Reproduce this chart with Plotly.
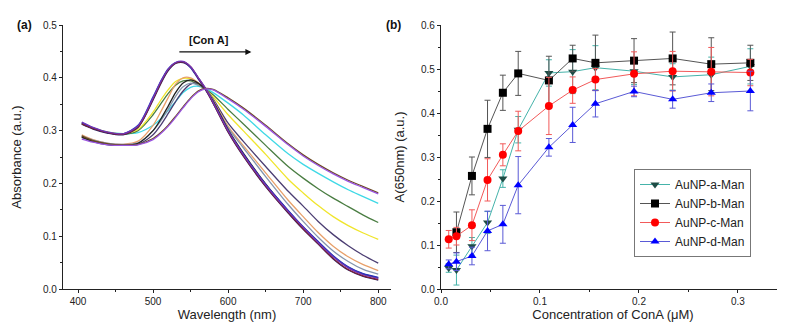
import plotly.graph_objects as go

# ---------------- Panel (a): UV-vis spectra ----------------
wavelength = [405, 420, 440, 460, 480, 500, 510, 520, 530, 540, 550, 560,
              570, 580, 600, 620, 650, 680, 700, 720, 740, 760, 780, 800]

spec_purple = [.316, .306, .297, .294, .309, .362, .392, .416, .429, .431, .421, .401,
               .380, .354, .300, .255, .197, .147, .117, .088, .061, .040, .027, .020]
spec_darkred = [.313, .304, .296, .293, .307, .360, .390, .415, .428, .430, .421, .400,
                .378, .352, .298, .253, .195, .145, .114, .086, .058, .037, .025, .018]
spec_blue = [.314, .305, .296, .294, .310, .364, .393, .417, .429, .430, .419, .398,
             .377, .352, .299, .256, .198, .149, .118, .090, .063, .042, .029, .022]
spec_navy = [.312, .303, .295, .292, .306, .358, .388, .413, .427, .429, .420, .400,
             .379, .353, .297, .252, .194, .144, .113, .085, .057, .036, .024, .017]
spec_black = [.288, .280, .274, .272, .276, .300, .321, .346, .372, .390, .396, .390,
              .377, .356, .302, .258, .199, .148, .117, .089, .062, .041, .028, .021]
spec_gray = [.290, .282, .276, .274, .277, .300, .318, .340, .365, .383, .390, .386,
             .377, .356, .305, .268, .213, .160, .128, .098, .072, .052, .037, .028]
spec_orange = [.292, .283, .276, .274, .280, .310, .335, .362, .388, .400, .400, .391,
               .378, .358, .308, .272, .220, .168, .137, .107, .081, .061, .046, .035]
spec_slate = [.287, .279, .273, .272, .274, .292, .310, .332, .355, .375, .388, .390,
              .379, .360, .314, .280, .232, .185, .157, .128, .103, .082, .064, .049]
spec_yellow = [.314, .305, .297, .294, .302, .335, .357, .377, .393, .399, .398, .389,
               .377, .364, .330, .300, .255, .208, .182, .158, .137, .120, .106, .094]
spec_green = [.313, .304, .296, .293, .300, .330, .350, .370, .386, .394, .394, .387,
              .378, .368, .340, .313, .272, .232, .210, .190, .172, .156, .140, .126]
spec_cyan = [.315, .305, .297, .294, .296, .310, .322, .338, .355, .372, .382, .384,
             .380, .372, .352, .330, .292, .256, .236, .219, .203, .188, .175, .162]
spec_brown = [.290, .281, .275, .273, .274, .285, .296, .310, .327, .345, .362, .375,
              .380, .378, .362, .343, .310, .275, .254, .236, .220, .206, .194, .182]
spec_violet = [.284, .278, .273, .272, .273, .283, .294, .308, .325, .343, .360, .373,
               .379, .377, .360, .341, .308, .273, .252, .234, .218, .204, .192, .180]

spectra = [
    (spec_cyan, "#3fd9e6"), (spec_green, "#4a7d42"), (spec_yellow, "#f0e52c"),
    (spec_slate, "#4b3d72"), (spec_orange, "#e8a06a"), (spec_gray, "#8495ad"),
    (spec_black, "#222222"), (spec_navy, "#2a2060"), (spec_blue, "#2233c0"),
    (spec_darkred, "#852030"), (spec_purple, "#7035b8"),
    (spec_brown, "#6b4a1e"), (spec_violet, "#9a55e0"),
]

# ---------------- Panel (b): A(650nm) vs [ConA] ----------------
conc = [0.0078, 0.0156, 0.03125, 0.047, 0.0625, 0.078, 0.109, 0.133, 0.156,
        0.195, 0.234, 0.273, 0.3125]
conc_b = conc[1:]

a_man = [0.048, 0.043, 0.097, 0.151, 0.251, 0.362, 0.491, 0.494, 0.503, 0.495, 0.482, 0.487, 0.506]
a_err = [0.010, 0.034, 0.020, 0.025, 0.020, 0.030, 0.030, 0.050, 0.050, 0.030, 0.030, 0.040, 0.040]
b_man = [0.129, 0.257, 0.364, 0.446, 0.490, 0.474, 0.524, 0.514, 0.519, 0.524, 0.511, 0.514]
b_err = [0.046, 0.043, 0.065, 0.040, 0.050, 0.055, 0.030, 0.063, 0.050, 0.060, 0.060, 0.040]
c_man = [0.113, 0.120, 0.145, 0.248, 0.305, 0.359, 0.416, 0.452, 0.476, 0.489, 0.495, 0.494, 0.492]
c_err = [0.020, 0.020, 0.035, 0.048, 0.025, 0.045, 0.065, 0.030, 0.025, 0.050, 0.045, 0.055, 0.030]
d_man = [0.056, 0.062, 0.075, 0.132, 0.147, 0.236, 0.322, 0.373, 0.421, 0.449, 0.431, 0.446, 0.450]
d_err = [0.010, 0.020, 0.020, 0.045, 0.043, 0.065, 0.020, 0.040, 0.030, 0.012, 0.020, 0.020, 0.045]

series_names = ["AuNP-a-Man", "AuNP-b-Man", "AuNP-c-Man", "AuNP-d-Man"]

FONT = "Liberation Sans, Arial, sans-serif"
fig = go.Figure()

for vals, col in spectra:
    fig.add_trace(go.Scatter(x=wavelength, y=vals, mode="lines",
                             line=dict(color=col, width=1.3, shape="spline", smoothing=0.8),
                             showlegend=False, hoverinfo="skip", xaxis="x", yaxis="y"))

b_specs = [
    (conc, a_man, a_err, "#45b3aa", "#1d4c45", "triangle-down"),
    (conc_b, b_man, b_err, "#555555", "#000000", "square"),
    (conc, c_man, c_err, "#f25a5a", "#ff0000", "circle"),
    (conc, d_man, d_err, "#5a5ad6", "#0000ff", "triangle-up"),
]
for name, (xs, ys, es, lc, mc, sym) in zip(series_names, b_specs):
    fig.add_trace(go.Scatter(
        x=xs, y=ys, name=name, mode="lines+markers",
        line=dict(color=lc, width=1),
        marker=dict(symbol=sym, size=8, color=mc),
        error_y=dict(type="data", array=es, visible=True, color=lc, thickness=1, width=3),
        xaxis="x2", yaxis="y2"))

W, H = 785, 328
def fx(px):
    return px / W
def fy(py):
    return (H - py) / H

axis_common = dict(showline=True, linecolor="#222", linewidth=1.2, ticks="outside",
                   ticklen=3, tickcolor="#222", showgrid=False, zeroline=False,
                   tickfont=dict(family=FONT, size=10, color="#222"),
                   automargin=False, mirror=False)

fig.update_layout(
    width=W, height=H, margin=dict(l=0, r=0, t=0, b=0),
    paper_bgcolor="white", plot_bgcolor="white",
    font=dict(family=FONT, color="#222"),
    xaxis=dict(domain=[fx(55), fx(383)], range=[380, 817], dtick=100, tick0=0,
               minor=dict(dtick=50, ticklen=2, tickcolor="#222", ticks="outside"),
               title=dict(text="Wavelength (nm)", font=dict(size=13, family=FONT), standoff=0),
               anchor="y", **axis_common),
    yaxis=dict(domain=[fy(281), fy(17)], range=[0, 0.5], dtick=0.1, tickformat=".1f",
               minor=dict(dtick=0.05, ticklen=2, tickcolor="#222", ticks="outside"),
               title=dict(text="Absorbance (a.u.)", font=dict(size=13, family=FONT), standoff=18),
               anchor="x", **axis_common),
    xaxis2=dict(domain=[fx(433), fx(777)], range=[0, 0.3475], dtick=0.1, tickformat=".1f",
                minor=dict(dtick=0.05, ticklen=2, tickcolor="#222", ticks="outside"),
                title=dict(text="Concentration of ConA (\u03bcM)", font=dict(size=13, family=FONT), standoff=0),
                anchor="y2", **axis_common),
    yaxis2=dict(domain=[fy(281), fy(17)], range=[0, 0.6], dtick=0.1, tickformat=".1f",
                minor=dict(dtick=0.05, ticklen=2, tickcolor="#222", ticks="outside"),
                title=dict(text="A(650nm) (a.u.)", font=dict(size=13, family=FONT), standoff=13),
                anchor="x2", **axis_common),
    legend=dict(x=fx(626), y=fy(161), xanchor="left", yanchor="top",
                bordercolor="#777", borderwidth=1, bgcolor="white",
                font=dict(family=FONT, size=12, color="#222"),
                tracegroupgap=0, itemwidth=30),
    showlegend=True,
)

fig.add_annotation(xref="paper", yref="paper", x=fx(7), y=fy(17), text="<b>(a)</b>",
                   showarrow=False, xanchor="left", yanchor="middle",
                   font=dict(family=FONT, size=12, color="#111"))
fig.add_annotation(xref="paper", yref="paper", x=fx(376), y=fy(17), text="<b>(b)</b>",
                   showarrow=False, xanchor="left", yanchor="middle",
                   font=dict(family=FONT, size=12, color="#111"))
fig.add_annotation(xref="x", yref="y", x=631, y=0.449, ax=533, ay=0.449,
                   axref="x", ayref="y", text="", showarrow=True,
                   arrowhead=2, arrowsize=1, arrowwidth=1.2, arrowcolor="#111")
fig.add_annotation(xref="x", yref="y", x=575, y=0.472, text="<b>[Con A]</b>",
                   showarrow=False, font=dict(family=FONT, size=11, color="#111"))

fig.write_html("out.html")
